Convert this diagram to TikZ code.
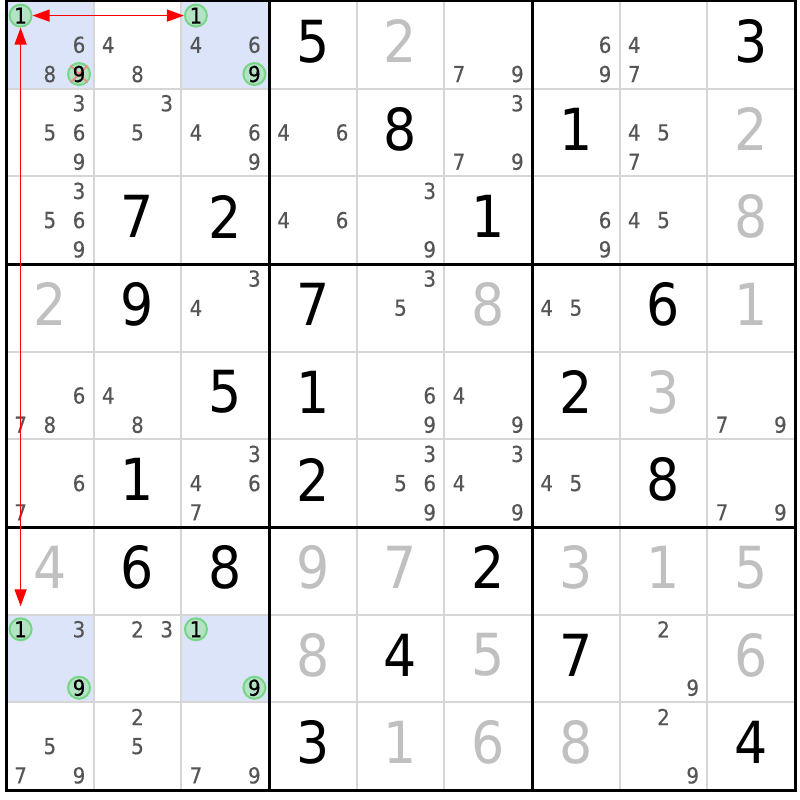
\documentclass[tikz,border=0pt]{standalone}
\usepackage{fontspec}
\setmainfont{DejaVu Sans Condensed}
\newfontfamily\candfont[FakeBold=0.4]{DejaVu Sans Condensed}
\usetikzlibrary{arrows.meta}
\definecolor{candgrey}{HTML}{555555}
\definecolor{solvedgrey}{HTML}{C0C0C0}
\definecolor{thingrid}{HTML}{D6D6D6}
\definecolor{hlblue}{HTML}{DCE4FA}
\definecolor{ringgreen}{HTML}{76D686}
\definecolor{ringfill}{HTML}{A0E2AA}
\definecolor{crossred}{HTML}{F08C8C}
\begin{document}
\begin{tikzpicture}[x=1pt,y=-1pt,
  cand/.style={font=\candfont\fontsize{22}{22}\selectfont, text=candgrey, inner sep=0pt},
  candhl/.style={cand, text=black},
  given/.style={font=\fontsize{58}{58}\selectfont, text=black, inner sep=0pt},
  solved/.style={given, text=solvedgrey},
  ring/.style={circle, draw=ringgreen, line width=2pt, fill=ringfill, fill opacity=0.65, minimum size=22pt, inner sep=0pt},
  crossline/.style={draw=crossred, line width=2pt},
  redarrow/.style={draw=red, line width=1.4pt, {Triangle[length=17pt,width=12pt]}-{Triangle[length=17pt,width=12pt]}},
  thinline/.style={draw=thingrid, line width=2pt},
  thickline/.style={draw=black, line width=3pt}]
\def\gx{6}\def\gy{1}\def\cs{87.67}\def\sub{29.22}
\useasboundingbox (0,0) rectangle (800,800);
\fill[white] (0,0) rectangle (800,800);
% highlighted cells
\foreach \r/\c in {1/1,1/3,8/1,8/3}
  \fill[hlblue] ({\gx+(\c-1)*\cs},{\gy+(\r-1)*\cs}) rectangle ++(\cs,\cs);
% grid
\foreach \i in {1,2,4,5,7,8}{
  \draw[thinline] ({\gx+\i*\cs},\gy) -- ({\gx+\i*\cs},{\gy+9*\cs});
  \draw[thinline] (\gx,{\gy+\i*\cs}) -- ({\gx+9*\cs},{\gy+\i*\cs});
}
\foreach \i in {0,3,6,9}{
  \draw[thickline] ({\gx+\i*\cs},{\gy-1.5}) -- ({\gx+\i*\cs},{\gy+9*\cs+1.5});
  \draw[thickline] ({\gx-1.5},{\gy+\i*\cs}) -- ({\gx+9*\cs+1.5},{\gy+\i*\cs});
}
% rings
\foreach \r/\c/\d in {1/1/1,1/1/9,1/3/1,1/3/9,8/1/1,8/1/9,8/3/1,8/3/9}{
  \pgfmathtruncatemacro\sr{int((\d-1)/3)}
  \pgfmathtruncatemacro\sc{mod(\d-1,3)}
  \node[ring] (k\r\c\d) at ({\gx+(\c-1)*\cs+14.6+\sc*\sub},{\gy+(\r-1)*\cs+14.6+\sr*\sub}) {};
}
\draw[crossline] (k119.north west) -- (k119.south east);
\draw[crossline] (k119.north east) -- (k119.south west);
% highlighted candidate digits
\foreach \r/\c/\d in {1/1/1,1/1/9,1/3/1,1/3/9,8/1/1,8/1/9,8/3/1,8/3/9}{
  \node[candhl] (n\r\c\d) at (k\r\c\d) {\d};
}
% plain candidates
\foreach \r/\c/\ds in {1/1/{6,8},1/2/{4,8},1/3/{4,6},1/6/{7,9},1/7/{6,9},1/8/{4,7},
  2/1/{3,5,6,9},2/2/{3,5},2/3/{4,6,9},2/4/{4,6},2/6/{3,7,9},2/8/{4,5,7},
  3/1/{3,5,6,9},3/4/{4,6},3/5/{3,9},3/7/{6,9},3/8/{4,5},
  4/3/{3,4},4/5/{3,5},4/7/{4,5},
  5/1/{6,7,8},5/2/{4,8},5/5/{6,9},5/6/{4,9},5/9/{7,9},
  6/1/{6,7},6/3/{3,4,6,7},6/5/{3,5,6,9},6/6/{3,4,9},6/7/{4,5},6/9/{7,9},
  8/1/{3},8/2/{2,3},8/8/{2,9},
  9/1/{5,7,9},9/2/{2,5},9/3/{7,9},9/8/{2,9}}{
  \foreach \d in \ds {
    \pgfmathtruncatemacro\sr{int((\d-1)/3)}
    \pgfmathtruncatemacro\sc{mod(\d-1,3)}
    \node[cand] (n\r\c\d) at ({\gx+(\c-1)*\cs+14.6+\sc*\sub},{\gy+(\r-1)*\cs+14.6+\sr*\sub}) {\d};
  }
}
% givens
\foreach \r/\c/\v in {1/4/5,1/9/3,2/5/8,2/7/1,3/2/7,3/3/2,3/6/1,4/2/9,4/4/7,4/8/6,
  5/3/5,5/4/1,5/7/2,6/2/1,6/4/2,6/8/8,7/2/6,7/3/8,7/6/2,8/5/4,8/7/7,9/4/3,9/9/4}
  \node[given] (g\r\c) at ({\gx+(\c-0.5)*\cs},{\gy+(\r-0.5)*\cs-3.5}) {\v};
% solved
\foreach \r/\c/\v in {1/5/2,2/9/2,3/9/8,4/1/2,4/6/8,4/9/1,5/8/3,7/1/4,7/4/9,7/5/7,
  7/7/3,7/8/1,7/9/5,8/4/8,8/6/5,8/9/6,9/5/1,9/6/6,9/7/8}
  \node[solved] (s\r\c) at ({\gx+(\c-0.5)*\cs},{\gy+(\r-0.5)*\cs-3.5}) {\v};
% links
\draw[redarrow] (k111) -- (k131);
\draw[redarrow, shorten >=11pt] (k111) -- (k811);
\end{tikzpicture}
\end{document}
